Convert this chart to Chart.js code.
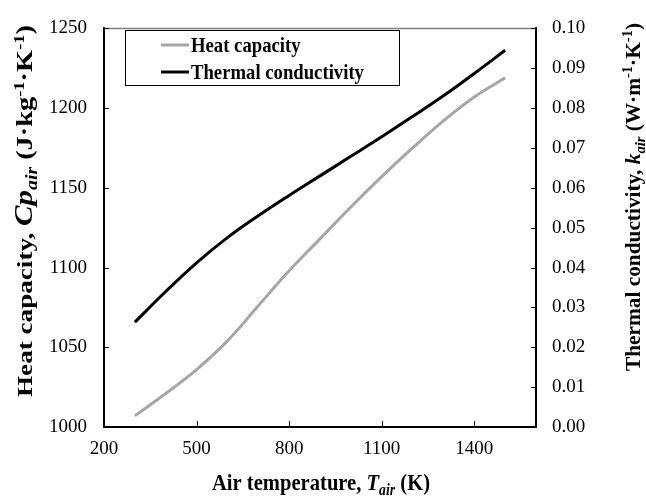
<!DOCTYPE html>
<html>
<head>
<meta charset="utf-8">
<script src="https://cdn.jsdelivr.net/npm/chart.js@4.4.1/dist/chart.umd.min.js"></script>
<style>
    html, body { margin: 0; padding: 0; background: #fff; }
    #wrap { width: 646px; height: 498px; }
</style>
</head>
<body>
<div id="wrap"><canvas id="propsChart"></canvas></div>
<script>
// Data
const temperatures = [300, 400, 500, 600, 700, 800, 900, 1000, 1100, 1200, 1300, 1400, 1500];
const heatCapacity = [1007, 1021, 1036, 1054, 1076, 1098, 1118, 1138, 1157, 1175, 1192, 1207, 1219];
const thermalConductivity = [0.0263, 0.0340, 0.0412, 0.0475, 0.0530, 0.0581, 0.0630, 0.0679, 0.0728, 0.0779, 0.0831, 0.0887, 0.0945];
const seriesLabels = ['Heat capacity', 'Thermal conductivity'];
const xTicks = [200, 500, 800, 1100, 1400];

const SERIF = '"Liberation Serif", "Times New Roman", serif';
const tickFont = { family: SERIF, size: 19 };

// Axis titles, drawn as rich text (italic symbols, sub/superscripts)
const leftTitle = [
    { t: 'Heat capacity, ', s: 22 }, { t: 'Cp', i: true, s: 25 }, { t: 'air', i: true, sub: true, s: 16 },
    { t: ' (J\u00B7kg', s: 23 }, { t: '-1', sup: true, s: 15 }, { t: '\u00B7K', s: 23 }, { t: '-1', sup: true, s: 15 }, { t: ')', s: 23 }
];
const rightTitle = [
    { t: 'Thermal conductivity, ', s: 22 }, { t: 'k', i: true, s: 22 }, { t: 'air', i: true, sub: true, s: 15 },
    { t: ' (W\u00B7m', s: 22 }, { t: '-1', sup: true, s: 15 }, { t: '\u00B7K', s: 22 }, { t: '-1', sup: true, s: 15 }, { t: ')', s: 22 }
];
const bottomTitle = [
    { t: 'Air temperature, ', s: 24 }, { t: 'T', i: true, s: 24 }, { t: 'air', i: true, sub: true, s: 16 }, { t: ' (K)', s: 24 }
];

function partFont(p) {
    return (p.i ? 'italic ' : '') + 'bold ' + p.s + 'px ' + SERIF;
}

// draws parts centred on (cx, cy) along the baseline, stretched/condensed to `length`
function drawRich(ctx, parts, cx, cy, angle, length) {
    ctx.save();
    ctx.translate(cx, cy);
    ctx.rotate(angle);
    let total = 0;
    parts.forEach(p => { ctx.font = partFont(p); total += ctx.measureText(p.t).width; });
    ctx.scale(length / total, 1);
    let x = -total / 2;
    ctx.fillStyle = '#000';
    ctx.textBaseline = 'alphabetic';
    ctx.textAlign = 'left';
    parts.forEach(p => {
        ctx.font = partFont(p);
        const dy = p.sub ? p.s * 0.3 : (p.sup ? -p.s * 0.55 : 0);
        ctx.fillText(p.t, x, dy);
        x += ctx.measureText(p.t).width;
    });
    ctx.restore();
}

const decorPlugin = {
    id: 'decor',
    afterDraw(chart) {
        const ctx = chart.ctx;
        const area = chart.chartArea;
        const { x, y, y1 } = chart.scales;

        ctx.save();
        // top border of the plot area
        ctx.strokeStyle = '#7f7f7f';
        ctx.lineWidth = 1.5;
        ctx.beginPath();
        ctx.moveTo(area.left, area.top);
        ctx.lineTo(area.right, area.top);
        ctx.stroke();

        // inward tick marks
        ctx.strokeStyle = '#000';
        ctx.lineWidth = 1;
        ctx.beginPath();
        x.ticks.forEach(t => {
            const px = Math.round(x.getPixelForValue(t.value)) + 0.5;
            ctx.moveTo(px, area.bottom);
            ctx.lineTo(px, area.bottom - 6);
        });
        y.ticks.forEach(t => {
            const py = Math.round(y.getPixelForValue(t.value)) + 0.5;
            ctx.moveTo(area.left, py);
            ctx.lineTo(area.left + 5, py);
        });
        y1.ticks.forEach(t => {
            const py = Math.round(y1.getPixelForValue(t.value)) + 0.5;
            ctx.moveTo(area.right, py);
            ctx.lineTo(area.right - 5, py);
        });
        ctx.stroke();

        // legend box inside the plot
        const bx = 125.5, by = 30.5, bw = 274, bh = 55;
        ctx.fillStyle = '#fff';
        ctx.fillRect(bx, by, bw, bh);
        ctx.strokeStyle = '#000';
        ctx.lineWidth = 1;
        ctx.strokeRect(bx, by, bw, bh);
        chart.data.datasets.forEach((ds, i) => {
            const ry = 45 + i * 27;
            ctx.strokeStyle = ds.borderColor;
            ctx.lineWidth = 3;
            ctx.beginPath();
            ctx.moveTo(161, ry);
            ctx.lineTo(189, ry);
            ctx.stroke();
            ctx.save();
            ctx.translate(191, ry + 7);
            ctx.scale(0.85, 1);
            ctx.fillStyle = '#000';
            ctx.font = 'bold 22px ' + SERIF;
            ctx.textBaseline = 'alphabetic';
            ctx.textAlign = 'left';
            ctx.fillText(ds.label, 0, 0);
            ctx.restore();
        });
        ctx.restore();

        // axis titles
        drawRich(ctx, leftTitle, 32, 211, -Math.PI / 2, 372);
        drawRich(ctx, rightTitle, 640, 197, -Math.PI / 2, 348);
        drawRich(ctx, bottomTitle, 321, 490, 0, 218);
    }
};

new Chart(document.getElementById('propsChart').getContext('2d'), {
    type: 'line',
    data: {
        datasets: [{
            label: seriesLabels[0],
            data: temperatures.map((t, i) => ({ x: t, y: heatCapacity[i] })),
            yAxisID: 'y',
            borderColor: '#a6a6a6',
            borderWidth: 3,
            pointRadius: 0,
            tension: 0.4,
            fill: false
        }, {
            label: seriesLabels[1],
            data: temperatures.map((t, i) => ({ x: t, y: thermalConductivity[i] })),
            yAxisID: 'y1',
            borderColor: '#000000',
            borderWidth: 3,
            pointRadius: 0,
            tension: 0.4,
            fill: false
        }]
    },
    options: {
        responsive: true,
        maintainAspectRatio: false,
        animation: false,
        layout: { padding: { top: 17, left: 0, right: 0, bottom: 0 } },
        plugins: {
            legend: { display: false },
            tooltip: { enabled: false }
        },
        scales: {
            x: {
                type: 'linear',
                min: 200,
                max: 1600,
                afterBuildTicks: s => { s.ticks = xTicks.map(v => ({ value: v })); },
                ticks: { padding: 11, color: '#000', font: tickFont, maxRotation: 0, callback: v => String(v) },
                grid: { display: false, drawTicks: false },
                border: { display: true, color: '#000', width: 2 },
                afterFit: s => { s.height = 71; }
            },
            y: {
                position: 'left',
                min: 1000,
                max: 1250,
                ticks: { stepSize: 50, padding: 17, color: '#000', font: tickFont, callback: v => String(v) },
                grid: { display: false, drawTicks: false },
                border: { display: true, color: '#000', width: 2 },
                afterFit: s => { s.width = 104; }
            },
            y1: {
                position: 'right',
                min: 0,
                max: 0.1,
                ticks: { stepSize: 0.01, padding: 16, color: '#000', font: tickFont, callback: v => v.toFixed(2) },
                grid: { display: false, drawTicks: false },
                border: { display: true, color: '#000', width: 2 },
                afterFit: s => { s.width = 110; }
            }
        }
    },
    plugins: [decorPlugin]
});
</script>
</body>
</html>
